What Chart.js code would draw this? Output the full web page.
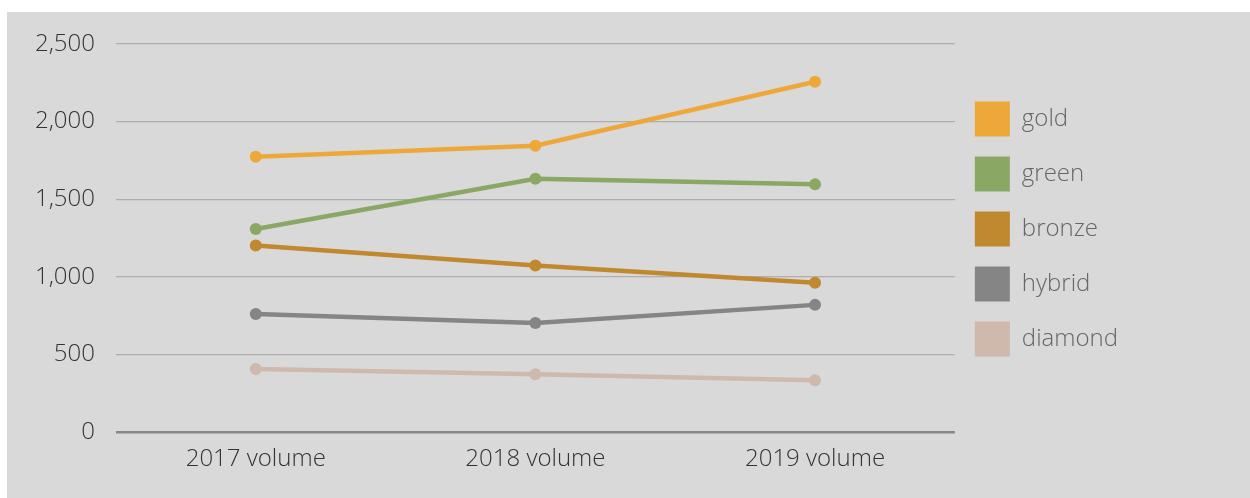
<!DOCTYPE html>
<html>
<head>
<meta charset="utf-8">
<script src="https://cdn.jsdelivr.net/npm/chart.js@4"></script>
<style>
  html, body { margin: 0; padding: 0; background: #fff; }
  #wrap { position: absolute; left: 7px; top: 12px; width: 1243px; height: 486px; background: #d9d9d9; }
</style>
</head>
<body>
<div id="wrap"><canvas id="grafico" width="1243" height="486"></canvas></div>
<script>
const categorias = ["2017 volume", "2018 volume", "2019 volume"];
const series = ["gold", "green", "bronze", "hybrid", "diamond"];
const cores = ["#eea83a", "#8aa864", "#c0882f", "#858585", "#cfb9ac"];

const gold = [1774, 1845, 2257];
const green = [1309, 1632, 1596];
const bronze = [1203, 1074, 962];
const hybrid = [761, 703, 820];
const diamond = [407, 373, 334];

const valores = [gold, green, bronze, hybrid, diamond];

Chart.defaults.font.family = "'Open Sans', sans-serif";
Chart.defaults.font.weight = 300;
Chart.defaults.font.size = 24;

// sobe a legenda um pouco, como no original
const ajusteLegenda = {
  id: "ajusteLegenda",
  afterLayout(chart) {
    chart.legend.top -= 9;
    chart.legend.bottom -= 9;
  }
};

new Chart(document.getElementById("grafico"), {
  type: "line",
  data: {
    labels: categorias,
    datasets: series.map((nome, i) => ({
      label: nome,
      data: valores[i],
      borderColor: cores[i],
      backgroundColor: cores[i],
      borderWidth: 4.5,
      pointRadius: 6,
      pointHoverRadius: 6,
      pointBorderWidth: 0,
      tension: 0
    }))
  },
  options: {
    responsive: false,
    animation: false,
    devicePixelRatio: 1,
    layout: { padding: { left: 7, top: 32, right: 122, bottom: 19 } },
    scales: {
      x: {
        offset: true,
        grid: { display: false },
        border: { display: false },
        ticks: { color: "#333", padding: 5, font: { size: 24 }, maxRotation: 0 }
      },
      y: {
        min: 0,
        max: 2500,
        afterFit: s => { s.paddingTop = 0; },
        ticks: {
          stepSize: 500,
          color: "#333",
          padding: 21,
          font: { size: 24 },
          callback: v => v.toLocaleString("en-US")
        },
        border: { display: false },
        grid: {
          drawTicks: false,
          color: c => c.tick.value === 0 ? "#888" : "#aeaeae",
          lineWidth: c => c.tick.value === 0 ? 2.5 : 1.2
        }
      }
    },
    plugins: {
      tooltip: { enabled: false },
      legend: {
        position: "right",
        align: "center",
        fullSize: false,
        labels: {
          boxWidth: 35,
          boxHeight: 35,
          padding: 20,
          color: "#666",
          useBorderRadius: true,
          borderRadius: 2,
          font: { size: 24 },
          generateLabels: chart => chart.data.datasets.map((d, i) => ({
            text: d.label,
            fillStyle: d.backgroundColor,
            strokeStyle: d.backgroundColor,
            lineWidth: 0,
            fontColor: "#666",
            datasetIndex: i,
            hidden: false
          }))
        }
      }
    }
  },
  plugins: [ajusteLegenda]
});
</script>
</body>
</html>
